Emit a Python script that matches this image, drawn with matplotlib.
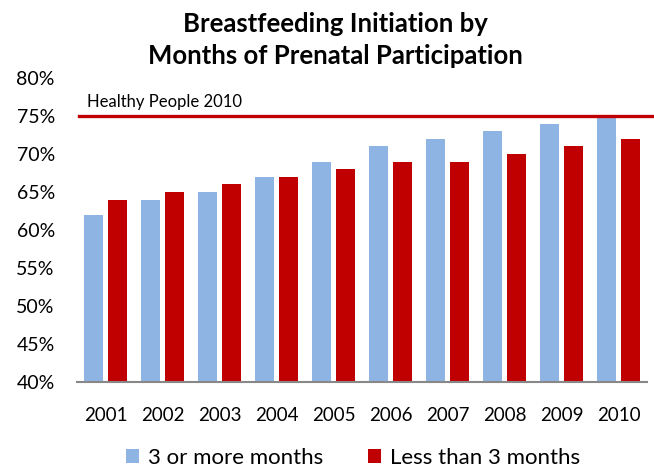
import matplotlib
matplotlib.use("Agg")
import matplotlib.pyplot as plt
import numpy as np
from matplotlib.ticker import FuncFormatter

years = ["2001", "2002", "2003", "2004", "2005", "2006", "2007", "2008", "2009", "2010"]
three_or_more = [62, 64, 65, 67, 69, 71, 72, 73, 74, 75]
less_than_three = [64, 65, 66, 67, 68, 69, 69, 70, 71, 72]
target = 75
target_label = "Healthy People 2010"
series_names = ["3 or more months", "Less than 3 months"]
title = "Breastfeeding Initiation by\nMonths of Prenatal Participation"

plt.rcParams['font.family'] = ['Lato', 'DejaVu Sans']

fig = plt.figure(figsize=(6.54, 4.72), dpi=100)
ax = fig.add_axes([77/654, 1 - 382/472, 570/654, (382 - 78)/472])

x = np.arange(len(years))
w = 0.335
off = 0.205
blue = "#8EB4E3"
red = "#C00000"
ax.bar(x - off, three_or_more, w, color=blue, label=series_names[0], zorder=2)
ax.bar(x + off, less_than_three, w, color=red, label=series_names[1], zorder=2)

ax.set_xlim(-0.5, len(years) - 0.5)
ax.set_ylim(40, 80)
ax.set_yticks(np.arange(40, 81, 5))
ax.yaxis.set_major_formatter(FuncFormatter(lambda v, p: f"{int(v)}%"))
ax.set_xticks(x)
ax.set_xticklabels(years)

ax.axhline(target, xmin=2/570, xmax=(654 - 77)/570, color=red, lw=2.4, clip_on=False, zorder=3)
ax.text(-0.32, target + 0.8, target_label, fontsize=12, color="#000000", va="bottom", ha="left")

for s in ["top", "right", "left"]:
    ax.spines[s].set_visible(False)
ax.spines["bottom"].set_color("#888888")
ax.spines["bottom"].set_linewidth(1.5)
ax.spines["bottom"].set_zorder(4)
ax.tick_params(axis="x", length=0, labelsize=13.5, pad=18)
ax.tick_params(axis="y", length=0, labelsize=14, pad=16)

fig.text(335/654, 1 - 40/472, title, ha="center", va="center", fontsize=18.5,
         fontweight="bold", linespacing=1.35)

fig.legend(loc="center", bbox_to_anchor=(353/654, 1 - 458/472), ncol=2, frameon=False,
           fontsize=16, handlelength=0.6, handleheight=0.6, handletextpad=0.4,
           columnspacing=2.0)

fig.savefig("out.png", dpi=100)
